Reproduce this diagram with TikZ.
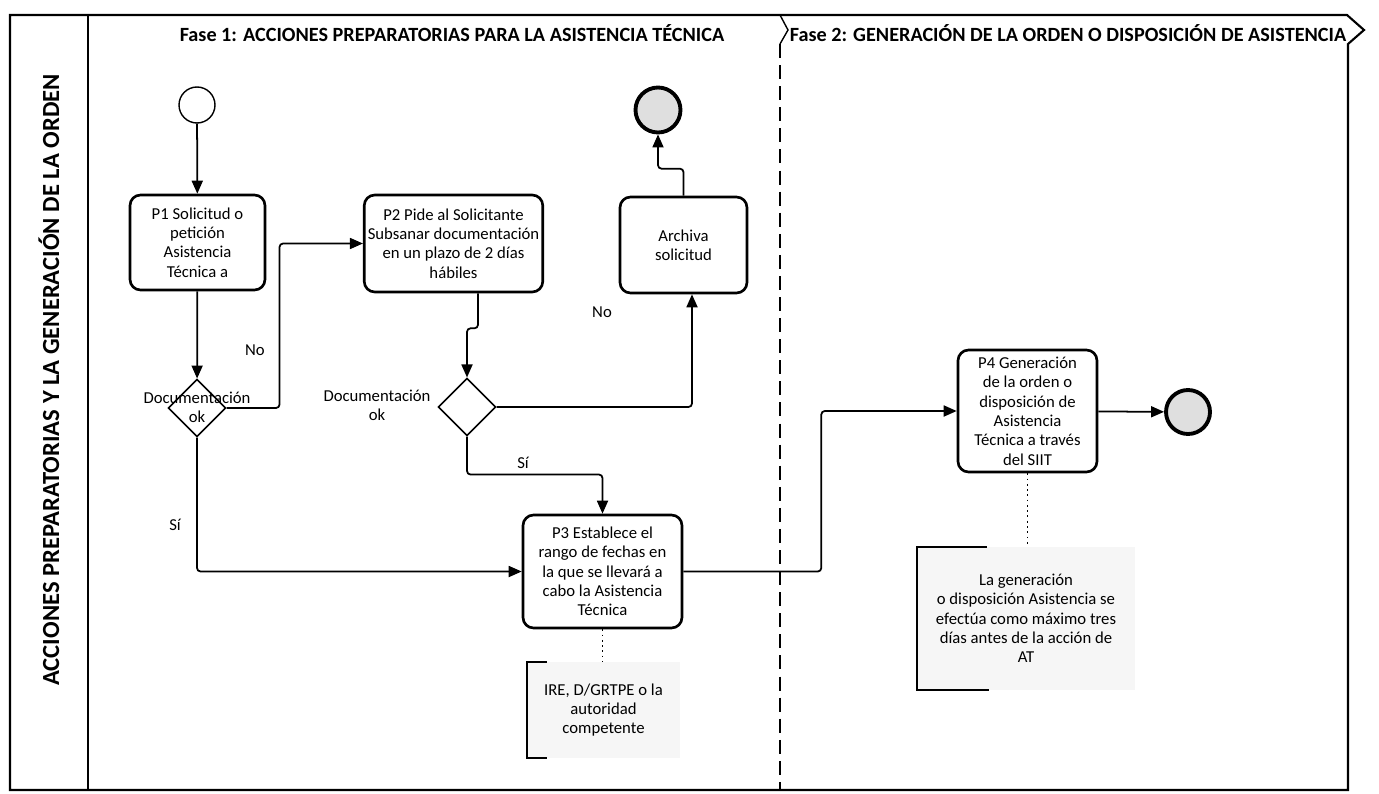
\documentclass[tikz,border=0pt]{standalone}
\usepackage{fontspec}
\setmainfont{Carlito}
\usetikzlibrary{arrows.meta,shapes.geometric}

\begin{document}
\begin{tikzpicture}[x=0.02cm,y=-0.02cm,
    task/.style={draw,line width=1.5pt,rounded corners=6pt,align=center,
        font=\fontsize{9.5}{11}\selectfont,inner sep=2pt},
    gate/.style={draw,diamond,line width=0.9pt,minimum size=1.15cm,inner sep=0pt},
    startev/.style={draw,circle,line width=0.8pt,minimum size=0.72cm,inner sep=0pt},
    endev/.style={draw,circle,line width=2.2pt,fill=gray!25,minimum size=0.9cm,inner sep=0pt},
    flow/.style={line width=1pt,rounded corners=2pt,-{Triangle[length=2.6mm,width=2.2mm]}},
    assoc/.style={line width=1pt,dotted},
    note/.style={fill=gray!7,align=center,font=\fontsize{9.5}{11}\selectfont},
    bracket/.style={line width=1pt},
    lbl/.style={font=\fontsize{9.5}{11}\selectfont,align=center},
    phase/.style={font=\bfseries\fontsize{11.5}{13}\selectfont}]
    \useasboundingbox (0,0) rectangle (1379,794);

    % pool and lane
    \draw [line width=1.2pt] (10,15) -- (1347,15) -- (1364,30) -- (1348,44) -- (1348,790) -- (10,790) -- cycle;
    \draw [line width=1pt] (88,15) -- (88,790);
    \node [rotate=90,font=\bfseries\fontsize{14}{16}\selectfont] (lane) at (49,380)
        {ACCIONES PREPARATORIAS Y LA GENERACIÓN DE LA ORDEN};

    % phases
    \draw [line width=0.8pt] (780,15) -- (788,30) -- (780,44);
    \draw [line width=0.8pt,dashed,dash pattern=on 8pt off 4pt] (780,44) -- (780,790);
    \node [phase] (fase1) at (452,33) {Fase 1: ACCIONES PREPARATORIAS PARA LA ASISTENCIA TÉCNICA};
    \node [phase] (fase2) at (1068,33) {Fase 2: GENERACIÓN DE LA ORDEN O DISPOSICIÓN DE ASISTENCIA};

    % events, tasks and gateways
    \node [startev] (start) at (197,105) {};
    \node [task,minimum width=2.7cm,minimum height=1.9cm] (p1) at (197.5,242.5)
        {P1 Solicitud o\\petición\\Asistencia\\Técnica a};
    \node [gate] (d1) at (197,408) {};
    \node [lbl] (d1lbl) at (197,407) {Documentación\\ok};
    \node [task,minimum width=3.34cm,minimum height=1.94cm] (p2) at (453.5,243.5)
        {P2 Pide al Solicitante\\Subsanar documentación\\en un plazo de 2 días\\hábiles};
    \node [gate] (d2) at (467,407) {};
    \node [lbl] (d2lbl) at (377,405) {Documentación\\ok};
    \node [task,minimum width=2.54cm,minimum height=1.92cm] (arch) at (683.5,245)
        {Archiva\\solicitud};
    \node [endev] (end1) at (658,110) {};
    \node [task,minimum width=3.18cm,minimum height=2.26cm] (p3) at (602.5,571.5)
        {P3 Establece el\\rango de fechas en\\la que se llevará a\\cabo la Asistencia\\Técnica};
    \node [task,minimum width=2.78cm,minimum height=2.44cm] (p4) at (1027.5,411)
        {P4 Generación\\de la orden o\\disposición de\\Asistencia\\Técnica a través\\del SIIT};
    \node [endev,minimum size=0.88cm] (end2) at (1188,412) {};

    % annotations
    \node [note,minimum width=3.06cm,minimum height=1.92cm] (n3) at (603.5,710)
        {IRE, D/GRTPE o la\\autoridad\\competente};
    \node [note,minimum width=4.36cm,minimum height=2.86cm] (n4) at (1026,618.5)
        {La generación\\o disposición Asistencia se\\efectúa como máximo tres\\días antes de la acción de\\AT};
    \draw [bracket] ([xshift=0.4cm]n3.north west) -| (n3.south west) -- ++(20,0);
    \draw [bracket] ([xshift=1.4cm]n4.north west) -| (n4.south west) -- ++(72,0);
    \draw [assoc] (p3.south) -- (p3.south |- n3.north);
    \draw [assoc] (p4.south) -- (p4.south |- n4.north);

    % sequence flows
    \draw [flow] (start) -- (p1);
    \draw [flow] (p1) -- (d1);
    \draw [flow] (d1.east) -- ++(53,0) |- (p2.west);
    \draw [flow] ([xshift=0.49cm]p2.south) -- ++(0,35) -| (d2.north);
    \draw [flow] (d2.east) -| ([xshift=0.17cm]arch.south);
    \draw [flow] (arch.north) -- ++(0,-27) -| (end1.south);
    \draw [flow] (d2.south) -- ++(0,38) -| (p3.north);
    \draw [flow] (d1.south) |- (p3.west);
    \draw [flow] (p3.east) -- ++(138,0) |- (p4.west);
    \draw [flow] (p4) -- (end2);

    \node [lbl] (no1) at (255,350) {No};
    \node [lbl] (no2) at (602,312) {No};
    \node [lbl] (si1) at (523,463) {Sí};
    \node [lbl] (si2) at (175,525) {Sí};
\end{tikzpicture}
\end{document}
